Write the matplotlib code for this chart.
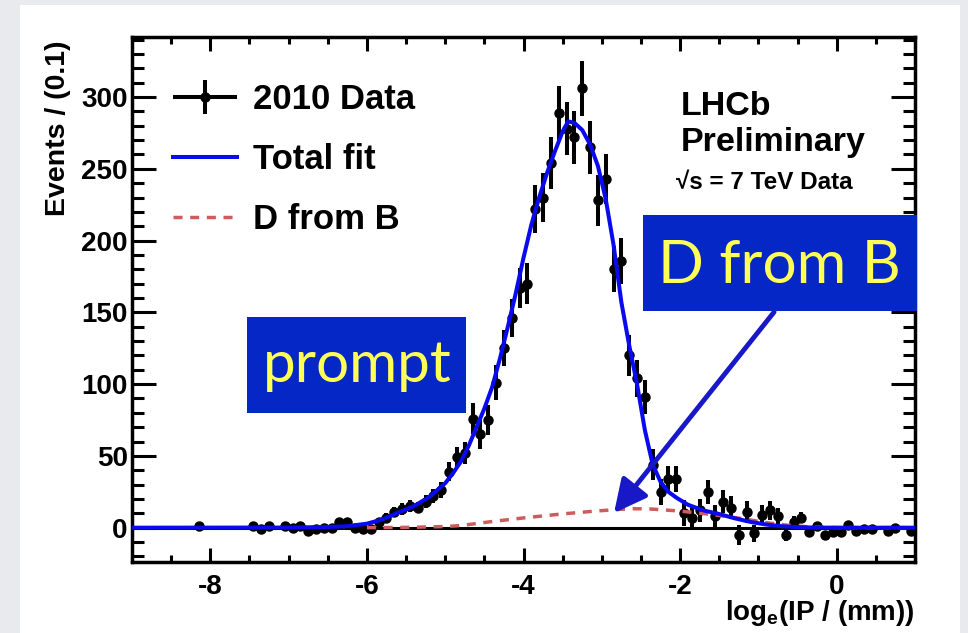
import matplotlib
matplotlib.use("Agg")
import matplotlib.pyplot as plt
from matplotlib import ticker
from matplotlib.patches import Rectangle
from matplotlib.legend_handler import HandlerErrorbar

plt.rcParams['font.family'] = ['Liberation Sans', 'DejaVu Sans']
plt.rcParams['font.weight'] = 'bold'
plt.rcParams['axes.unicode_minus'] = False
plt.rcParams['mathtext.fontset'] = 'custom'
plt.rcParams['mathtext.rm'] = 'Liberation Sans'
plt.rcParams['mathtext.bf'] = 'Liberation Sans:bold'

# binned 2010 data, bin width 0.1 in log_e(IP / mm)
bin_centres = [-8.15, -7.45, -7.35, -7.25, -7.05, -6.95, -6.85, -6.75, -6.65, -6.55,
               -6.45, -6.35, -6.25, -6.15, -6.05, -5.95, -5.85, -5.75, -5.65, -5.55,
               -5.45, -5.35, -5.25, -5.15, -5.05, -4.95, -4.85, -4.75, -4.65, -4.55,
               -4.45, -4.35, -4.25, -4.15, -4.05, -3.95, -3.85, -3.75, -3.65, -3.55,
               -3.45, -3.35, -3.25, -3.15, -3.05, -2.95, -2.85, -2.75, -2.65, -2.55,
               -2.45, -2.35, -2.25, -2.15, -2.05, -1.95, -1.85, -1.75, -1.65, -1.55,
               -1.45, -1.35, -1.25, -1.15, -1.05, -0.95, -0.85, -0.75, -0.65, -0.55,
               -0.45, -0.35, -0.25, -0.15, -0.05, 0.05, 0.15, 0.25, 0.35, 0.45,
               0.65, 0.75, 0.95]
events = [1, 1, -1, 1, 1, 0, 1, -2, -1, 0,
          0, 4, 4, 0, -1, -1, 4, 7, 11, 13,
          15, 14, 18, 22, 26, 39, 49, 52, 76, 65,
          75, 101, 125, 146, 167, 170, 222, 230, 254, 289,
          278, 272, 306, 265, 228, 243, 180, 186, 120, 104,
          91, 44, 25, 34, 34, 10, 7, 12, 25, 8,
          18, 14, -5, 11, -4, 9, 12, 8, -5, 4,
          7, -3, 1, -5, -3, -3, 2, -2, -1, -1,
          -2, 0, -2]
errors = [1, 1.5, 1.5, 1.5, 1.5, 1.5, 1.5, 1.5, 1.5, 1.5,
          2, 2.5, 2.5, 2, 2, 2, 2.5, 3, 3.5, 4,
          4, 4, 4.5, 5, 5.5, 6.5, 7, 7.5, 11, 10,
          10.5, 12, 12.5, 13, 14, 14.5, 16.5, 17, 18, 19,
          18.5, 18.5, 19, 18.5, 18, 17.5, 16, 16, 14, 13,
          12, 11, 9, 9, 9, 9, 8.5, 8, 8.5, 8,
          8, 8, 7, 7.5, 6, 7, 6.5, 6, 4, 4,
          4, 3, 2.5, 3, 2.5, 2, 2, 2, 1.5, 1.5,
          1.5, 1.5, 1.5]

# total fit (prompt + D from B)
fit_x = [-9.0, -7.0, -6.5, -6.25, -6.0, -5.8, -5.6, -5.4, -5.2, -5.0,
         -4.9, -4.8, -4.7, -4.6, -4.5, -4.4, -4.3, -4.2, -4.1, -4.0,
         -3.9, -3.8, -3.7, -3.6, -3.5, -3.43, -3.35, -3.25, -3.15, -3.05,
         -2.95, -2.85, -2.75, -2.65, -2.55, -2.45, -2.35, -2.25, -2.15, -2.05,
         -1.9, -1.7, -1.5, -1.3, -1.1, -0.9, -0.7, -0.5, -0.3, 0.0, 1.0]
fit_total = [0, 0.1, 0.5, 1, 2.8, 5.8, 10.5, 15, 21.5, 31,
             38, 46, 57, 70, 83, 98, 118, 140, 163, 188,
             211, 230, 247, 262, 276, 283, 282, 277, 267, 252,
             229, 197, 157, 127, 100, 68, 44, 32, 25, 21,
             16, 12, 9.5, 6.5, 4, 2.2, 1.0, 0.4, 0.1, 0, 0]

# D from B component
dfb_x = [-6.0, -5.5, -5.0, -4.8, -4.4, -4.0, -3.5, -3.1, -2.8, -2.6,
         -2.4, -2.0, -1.6, -1.2, -0.9, -0.6, -0.3, 0.0, 1.0]
dfb_y = [0, 0.2, 0.8, 1.5, 4.3, 6.8, 9.6, 11.5, 12.7, 13.2,
         13.1, 11.6, 9.2, 6.3, 3.5, 1.5, 0.4, 0.1, 0]

W, H = 968, 633


def fx(px):
    return px / W


def fy(py):
    return 1 - py / H


fig = plt.figure(figsize=(W / 100, H / 100), dpi=100, facecolor='#e9eaee')
# white slide panel behind everything
fig.add_artist(Rectangle((fx(20), 0), fx(940), 628 / H,
                         transform=fig.transFigure, facecolor='white',
                         edgecolor='none', zorder=-10))

ax = fig.add_axes([fx(132), fy(562), fx(915 - 132), (562 - 37) / H])
ax.set_xlim(-9, 1)
ax.set_ylim(-23.9, 341.8)

for s in ax.spines.values():
    s.set_linewidth(2.5)

ax.xaxis.set_major_locator(ticker.MultipleLocator(2))
ax.xaxis.set_minor_locator(ticker.MultipleLocator(0.5))
ax.yaxis.set_major_locator(ticker.MultipleLocator(50))
ax.yaxis.set_minor_locator(ticker.MultipleLocator(10))
ax.tick_params(which='both', direction='in', top=True, right=True,
               width=2.2, labelsize=20)
ax.tick_params(axis='x', which='major', length=10, pad=9)
ax.tick_params(axis='x', which='minor', length=5)
ax.tick_params(axis='y', which='major', length=17, pad=3)
ax.tick_params(axis='y', which='minor', length=8.5)

ax.axhline(0, color='black', lw=2.2, zorder=1)

data = ax.errorbar(bin_centres, events, yerr=errors, xerr=0.05, fmt='o',
                   color='black', ms=6.5, elinewidth=2.9, capsize=0, zorder=3)
dfb_line, = ax.plot(dfb_x, dfb_y, color='#cd5c5c', lw=2.5,
                    ls=(0, (2.6, 2.2)), zorder=4)
fit_line, = ax.plot(fit_x, fit_total, color='#0a0aee', lw=2.9, zorder=5)

ax.legend([data, fit_line, dfb_line], ['2010 Data', 'Total fit', 'D from B'],
          loc='upper left', bbox_to_anchor=(0.052, 0.912), frameon=False,
          fontsize=25, handlelength=1.85, handletextpad=0.45,
          labelspacing=0.78, borderpad=0, borderaxespad=0,
          handler_map={data: HandlerErrorbar(xerr_size=0.92, yerr_size=0.48)})

fig.text(fx(58), fy(40), 'Events / (0.1)', rotation=90, ha='center',
         va='top', fontsize=20.5)
fig.text(fx(915), fy(620), 'log$_\\mathbf{e}$(IP / (mm))', ha='right',
         va='baseline', fontsize=20)

fig.text(fx(681), fy(115), 'LHCb', fontsize=24.5, va='baseline')
fig.text(fx(681), fy(151), 'Preliminary', fontsize=24.5, va='baseline')
fig.text(fx(676), fy(189), '\u221as = 7 TeV Data', fontsize=17.5, va='baseline')

# slide labels
box_blue = '#0527c5'
label_yellow = '#ffff55'
fig.add_artist(Rectangle((fx(247), fy(413)), fx(466 - 247), (413 - 317) / H,
                         transform=fig.transFigure, facecolor=box_blue,
                         edgecolor='none', zorder=5))
fig.text(fx(357), fy(382), 'prompt', family='Lato', fontweight='normal',
         fontsize=42, color=label_yellow, ha='center', va='baseline', zorder=6)
fig.add_artist(Rectangle((fx(643), fy(311)), fx(917 - 643), (311 - 215) / H,
                         transform=fig.transFigure, facecolor=box_blue,
                         edgecolor='none', zorder=5))
fig.text(fx(779), fy(283), 'D from B', family='Lato', fontweight='normal',
         fontsize=43.5, color=label_yellow, ha='center', va='baseline', zorder=6)

ax.annotate('', xy=(-2.844, 10.2), xytext=(-0.80, 150.2),
            arrowprops=dict(arrowstyle='-|>,head_length=1.0,head_width=0.5',
                            mutation_scale=20, color='#1818c8', lw=3.5,
                            shrinkA=0, shrinkB=0), zorder=6)

fig.savefig('out.png', dpi=100, facecolor=fig.get_facecolor())
